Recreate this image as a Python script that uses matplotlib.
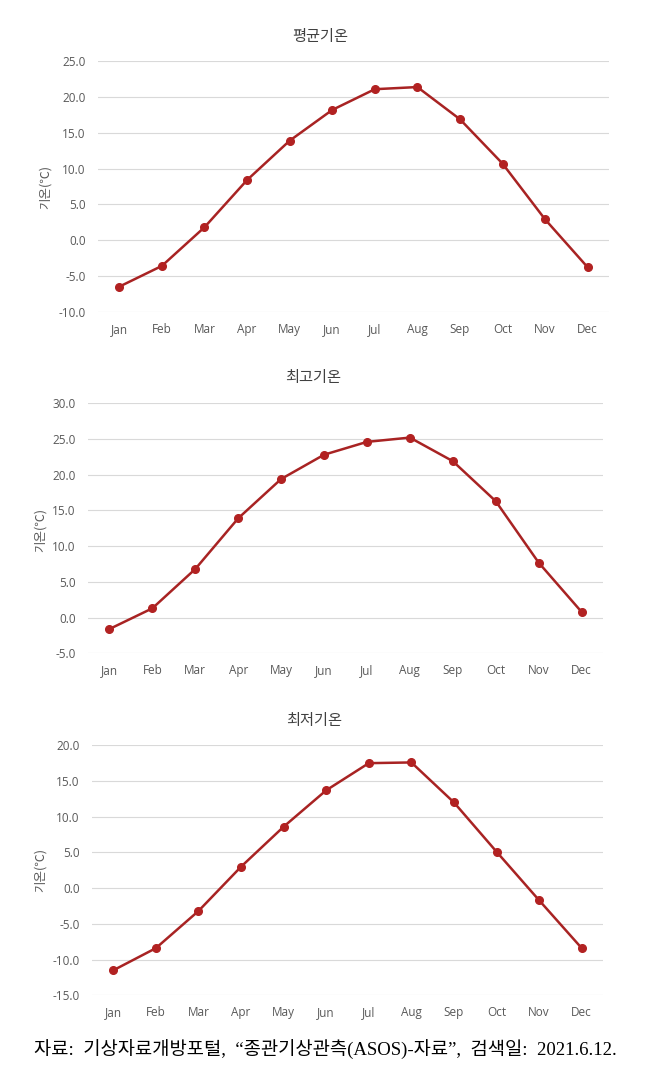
import matplotlib
matplotlib.use("Agg")
import matplotlib.pyplot as plt

months = ["Jan", "Feb", "Mar", "Apr", "May", "Jun",
          "Jul", "Aug", "Sep", "Oct", "Nov", "Dec"]

titles = ["평균기온", "최고기온", "최저기온"]

avg_temp = [-6.5, -3.6, 1.8, 8.4, 13.9, 18.2, 21.1, 21.4, 16.9, 10.7, 2.9, -3.8]
max_temp = [-1.6, 1.3, 6.8, 13.9, 19.4, 22.8, 24.6, 25.2, 21.9, 16.3, 7.7, 0.8]
min_temp = [-11.5, -8.4, -3.2, 3.0, 8.6, 13.7, 17.5, 17.6, 12.0, 5.1, -1.7, -8.4]

y_ranges = [(-10, 25), (-5, 30), (-15, 20)]

source_text = "자료:  기상자료개방포털,  “종관기상관측(ASOS)-자료”,  검색일:  2021.6.12."

C_LINE = "#a82323"
C_MARK = "#b22222"
C_TICK = "#595959"
C_TITLE = "#404040"
C_GRID = "#d9d9d9"
KR = ["Noto Sans CJK KR", "DejaVu Sans"]

W, H = 656, 1073
fig = plt.figure(figsize=(W / 100, H / 100), dpi=100)
fig.patch.set_facecolor("white")

# axes boxes in pixels: left, right, top, bottom
boxes = [(98, 609, 61.3, 311.7), (88, 603, 403.3, 653.3), (92, 603, 745.3, 995.3)]
title_pos = [(320, 37), (313, 378), (314, 720)]
ylab_pos = [(45, 187), (40, 530), (40, 870)]

series = [avg_temp, max_temp, min_temp]
x = list(range(len(months)))

for i in range(3):
    l, r, t, b = boxes[i]
    ax = fig.add_axes([l / W, 1 - b / H, (r - l) / W, (b - t) / H])
    ax.plot(x, series[i], color=C_LINE, lw=1.8, marker="o", ms=5.5,
            markerfacecolor=C_MARK, markeredgecolor=C_MARK, zorder=3)
    lo, hi = y_ranges[i]
    ax.set_ylim(lo, hi)
    ax.set_xlim(-0.5, len(months) - 0.5)
    ax.set_yticks(range(lo, hi + 1, 5))
    ax.set_yticklabels([f"{v:.1f}" for v in range(lo, hi + 1, 5)],
                       fontsize=8.5, color=C_TICK, family="Open Sans")
    ax.set_xticks(x)
    ax.set_xticklabels(months, fontsize=8.5, color=C_TICK, family="Open Sans")
    ax.tick_params(axis="both", length=0)
    ax.tick_params(axis="y", pad=9)
    ax.tick_params(axis="x", pad=8)
    ax.yaxis.grid(True, color=C_GRID, lw=0.8, zorder=0)
    ax.set_axisbelow(True)
    for sp in ax.spines.values():
        sp.set_visible(False)

    tx, ty = title_pos[i]
    fig.text(tx / W, 1 - ty / H, titles[i], ha="center", va="center",
             fontsize=11, color=C_TITLE, family=KR)
    yx, yy = ylab_pos[i]
    fig.text(yx / W, 1 - yy / H, "기온(℃)", ha="center", va="center",
             rotation=90, fontsize=9, color=C_TICK, family=KR)

fig.text(325 / W, 1 - 1050 / H, source_text, ha="center", va="center",
         fontsize=13.5, color="black",
         family=["Liberation Serif", "Noto Sans CJK KR"])

fig.savefig("out.png", dpi=100, facecolor="white")
